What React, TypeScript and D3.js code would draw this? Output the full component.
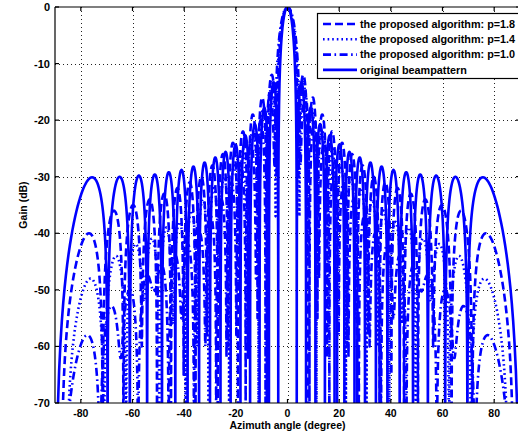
import React from "react";
import * as d3 from "d3";

// ---- data (positive-angle side; patterns are symmetric) ----
// null angles (deg), from the main lobe outward
const origNulls = [3.58, 7.18, 10.81, 14.48, 18.21, 22.02, 25.94, 30.0, 34.23, 38.68, 43.43, 48.59, 54.34, 61.04, 69.64, 90];
const p18Nulls = [4.2, 8.0, 11.6, 15.3, 19.2, 23.1, 27.0, 31.2, 35.6, 40.2, 45.1, 50.5, 56.4, 63.5, 71.5, 87.5];
const p14Nulls = [4.6, 7.6, 11.2, 15.8, 18.8, 22.6, 26.5, 30.6, 35.0, 39.4, 44.3, 49.6, 55.5, 62.5, 71.0, 85.5];
const p10Nulls = [5.0, 8.5, 12.2, 16.2, 19.8, 23.6, 27.6, 31.8, 36.2, 41.0, 46.0, 51.5, 57.8, 64.5, 72.5, 87.0];

// null depths (dB)
const origDepths = [-300, -300, -300, -300, -300, -300, -300, -300, -300, -300, -300, -300, -300, -300, -300, -300];
const p18Depths = [-30, -300, -55, -62, -300, -60, -300, -58, -300, -65, -300, -300, -60, -300, -300, -300];
const p14Depths = [-37, -45, -300, -58, -52, -300, -55, -300, -60, -300, -56, -300, -52, -300, -300, -300];
const p10Depths = [-28, -300, -48, -300, -58, -62, -300, -60, -300, -55, -300, -50, -300, -62, -300, -300];

// side-lobe peak levels (dB), from the main lobe outward (main lobe peak = 0 dB)
const origPeaks = [-13.3, -17.8, -20.7, -22.7, -24.3, -25.6, -26.6, -27.5, -28.2, -28.8, -29.2, -29.6, -29.8, -30.0, -30.1];
const p18Peaks = [-12, -16, -19, -22, -24, -26, -28, -30, -31, -32, -33, -34, -35, -36, -40];
const p14Peaks = [-13, -18, -22, -25, -28, -30, -32, -34, -36, -38, -39, -41, -42, -44, -48];
const p10Peaks = [-15, -20, -24, -28, -31, -34, -37, -40, -42, -44, -46, -48, -50, -53, -58];

const xTicks = [-80, -60, -40, -20, 0, 20, 40, 60, 80];
const yTicks = [0, -10, -20, -30, -40, -50, -60, -70];

const legendLabels = [
  "the proposed algorithm: p=1.8",
  "the proposed algorithm: p=1.4",
  "the proposed algorithm: p=1.0",
  "original beampattern",
];

const W = 518, H = 434;
const L = 55, R = 520, T = 7, B = 403;
const BLUE = "#0000ff";
const FONT = "'Liberation Sans', Arial, Helvetica, sans-serif";

const x = d3.scaleLinear().domain([-90, 90]).range([L, R]);
const y = d3.scaleLinear().domain([-70, 0]).range([B, T]);

function buildSeries(nullsPos: number[], depthsPos: number[], peaksPos: number[]) {
  const nulls = [...nullsPos.map((v) => -v).reverse(), ...nullsPos];
  const depths = [...depthsPos.slice().reverse(), ...depthsPos];
  const levels = [...peaksPos.slice().reverse(), 0, ...peaksPos];
  const pts: [number, number][] = [];
  const M = 60;
  const rad = Math.PI / 180;
  for (let i = 0; i < nulls.length - 1; i++) {
    const ua = Math.sin(nulls[i] * rad), ub = Math.sin(nulls[i + 1] * rad);
    const A = Math.pow(10, levels[i] / 20);
    const fa = Math.pow(10, depths[i] / 20), fb = Math.pow(10, depths[i + 1] / 20);
    for (let j = i === 0 ? 0 : 1; j <= M; j++) {
      const t = (1 - Math.cos((Math.PI * j) / M)) / 2;
      const u = ua + (ub - ua) * t;
      const th = Math.asin(Math.max(-1, Math.min(1, u))) / rad;
      const amp = Math.hypot(A * Math.sin(Math.PI * t), fa * (1 - t) + fb * t);
      const db = Math.max(20 * Math.log10(Math.max(amp, 1e-12)), -80);
      pts.push([th, db]);
    }
  }
  return pts;
}

const series = [
  { data: buildSeries(p18Nulls, p18Depths, p18Peaks), dash: "8 4" },
  { data: buildSeries(p14Nulls, p14Depths, p14Peaks), dash: "1.6 3" },
  { data: buildSeries(p10Nulls, p10Depths, p10Peaks), dash: "8 3.5 1.6 3.5" },
  { data: buildSeries(origNulls, origDepths, origPeaks), dash: "none" },
];

const line = d3
  .line<[number, number]>()
  .x((d) => x(d[0]))
  .y((d) => y(d[1]));

export default function App() {
  return (
    <svg
      width={W}
      height={H}
      style={{ position: "fixed", left: 0, top: 0, background: "#fff" }}
      fontFamily={FONT}
    >
      <rect x={0} y={0} width={W} height={H} fill="#fff" />
      <defs>
        <clipPath id="plotclip">
          <rect x={L} y={T} width={R - L} height={B - T} />
        </clipPath>
      </defs>
      {/* grid */}
      <g stroke="#222" strokeWidth={1} strokeDasharray="1 3">
        {xTicks.map((v) => (
          <line key={"gx" + v} x1={Math.round(x(v)) + 0.5} x2={Math.round(x(v)) + 0.5} y1={T} y2={B} />
        ))}
        {yTicks
          .filter((v) => v !== 0 && v !== -70)
          .map((v) => (
            <line key={"gy" + v} x1={L} x2={R} y1={Math.round(y(v)) + 0.5} y2={Math.round(y(v)) + 0.5} />
          ))}
      </g>
      {/* curves */}
      <g clipPath="url(#plotclip)">
        {series.map((s, i) => (
          <path
            key={i}
            d={line(s.data) || ""}
            fill="none"
            stroke={BLUE}
            strokeWidth={2.6}
            strokeDasharray={s.dash}
            strokeLinejoin="round"
          />
        ))}
      </g>
      {/* axes box */}
      <g stroke="#000" strokeWidth={1.2} fill="none">
        <line x1={L} x2={R} y1={T} y2={T} />
        <line x1={L} x2={R} y1={B} y2={B} />
        <line x1={L} x2={L} y1={T} y2={B} />
        <line x1={R} x2={R} y1={T} y2={B} />
        {xTicks.map((v) => (
          <g key={"tx" + v}>
            <line x1={x(v)} x2={x(v)} y1={B} y2={B - 4} />
            <line x1={x(v)} x2={x(v)} y1={T} y2={T + 4} />
          </g>
        ))}
        {yTicks.map((v) => (
          <g key={"ty" + v}>
            <line x1={L} x2={L + 4} y1={y(v)} y2={y(v)} />
            <line x1={R} x2={R - 4} y1={y(v)} y2={y(v)} />
          </g>
        ))}
      </g>
      {/* tick labels */}
      <g fontWeight="bold" fill="#000">
        {xTicks.map((v) => (
          <text key={"lx" + v} x={x(v)} y={B + 13.5} textAnchor="middle" fontSize={10.5}>
            {v}
          </text>
        ))}
        {yTicks.map((v) => (
          <text key={"ly" + v} x={L - 5} y={y(v) + 4} textAnchor="end" fontSize={11}>
            {v}
          </text>
        ))}
      </g>
      {/* axis labels */}
      <text x={287.5} y={429} textAnchor="middle" fontSize={10.5} fontWeight="bold">
        Azimuth angle (degree)
      </text>
      <text
        transform={`translate(27,${(T + B) / 2}) rotate(-90)`}
        textAnchor="middle"
        fontSize={10.5}
        fontWeight="bold"
      >
        Gain (dB)
      </text>
      {/* legend */}
      <g>
        <rect x={317.5} y={13.5} width={220} height={65} fill="#fff" stroke="#000" strokeWidth={1.2} />
        {legendLabels.map((lab, i) => {
          const cy = 24 + i * 15.3;
          return (
            <g key={lab}>
              <line
                x1={323}
                x2={357}
                y1={cy}
                y2={cy}
                stroke={BLUE}
                strokeWidth={2.6}
                strokeDasharray={series[i].dash}
              />
              <text x={360} y={cy + 3.8} fontSize={10.8} fontWeight="bold">
                {lab}
              </text>
            </g>
          );
        })}
      </g>
    </svg>
  );
}
